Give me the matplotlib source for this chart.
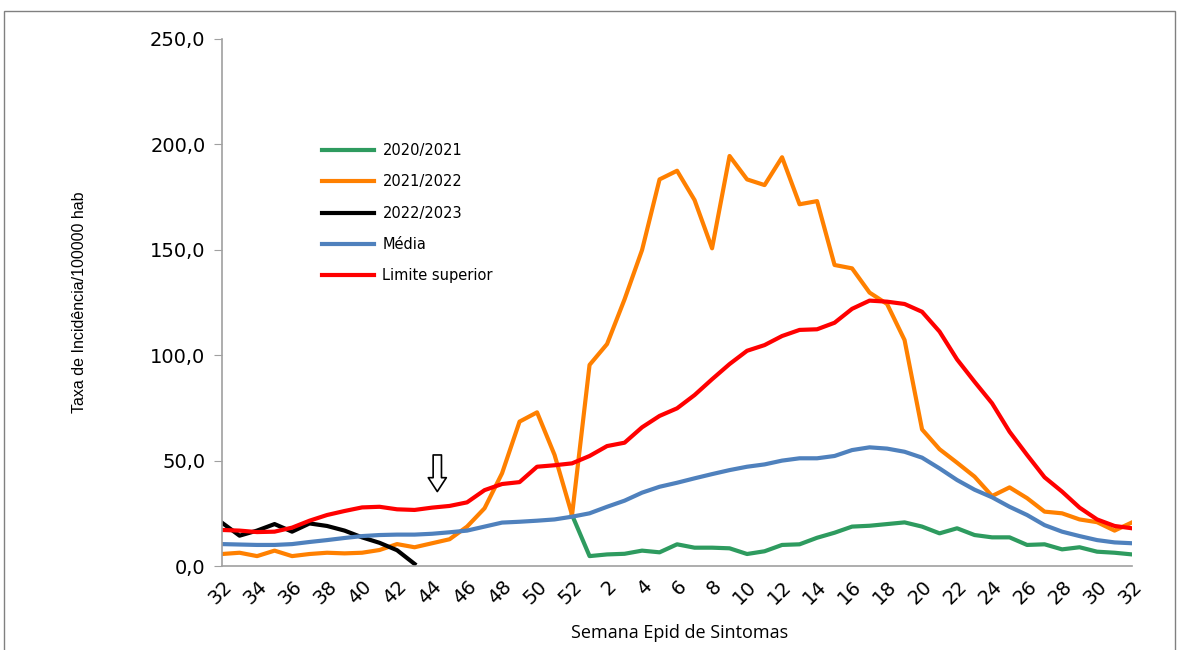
import matplotlib.pyplot as plt
import matplotlib.patches as mpatches
import numpy as np

# Epidemiological weeks: 32..52 then 1..32
weeks = list(range(32, 53)) + list(range(1, 33))
nan = np.nan

s2020 = [nan] * 20 + [24.2, 4.7, 5.5, 5.8, 7.3, 6.5, 10.3, 8.7, 8.7, 8.4,
                      5.7, 7.0, 10.0, 10.3, 13.4, 15.8, 18.7, 19.1, 19.9, 20.7,
                      18.7, 15.5, 17.9, 14.7, 13.6, 13.6, 10.0, 10.3, 7.9, 8.9,
                      6.8, 6.3, 5.5]
s2021 = [5.7, 6.3, 4.7, 7.3, 4.7, 5.7, 6.3, 6.0, 6.3, 7.6,
         10.4, 8.9, 10.8, 12.7, 18.7, 27.4, 44.0, 68.5, 72.9, 52.7,
         24.2, 95.4, 105.3, 126.5, 149.9, 183.4, 187.5, 173.6, 150.7, 194.5,
         183.4, 180.7, 193.9, 171.6, 173.1, 142.8, 141.2, 129.7, 124.3, 107.2,
         64.8, 55.4, 49.0, 42.4, 33.2, 37.3, 32.2, 25.8, 25.0, 22.1,
         20.8, 16.8, 20.7]
s2022 = [20.5, 14.4, 16.8, 19.9, 16.3, 20.2, 19.0, 16.8, 13.6, 11.0,
         7.5, 1.0] + [nan] * 41
media = [10.4, 10.2, 10.0, 10.0, 10.4, 11.4, 12.3, 13.3, 14.2, 14.7,
         14.9, 14.9, 15.3, 16.0, 16.8, 18.7, 20.6, 21.0, 21.5, 22.1,
         23.4, 25.0, 28.1, 31.0, 34.8, 37.6, 39.5, 41.6, 43.6, 45.5,
         47.1, 48.2, 50.0, 51.1, 51.1, 52.2, 55.0, 56.3, 55.7, 54.2,
         51.4, 46.3, 40.8, 36.2, 32.6, 28.1, 24.2, 19.4, 16.3, 14.2,
         12.3, 11.2, 10.8]
limite = [17.1, 16.8, 16.1, 16.3, 18.2, 21.5, 24.2, 26.1, 27.8, 28.1,
          26.9, 26.6, 27.7, 28.5, 30.2, 36.0, 38.9, 39.8, 47.1, 47.8,
          48.7, 52.2, 56.9, 58.5, 65.8, 71.2, 74.8, 81.1, 88.6, 95.8,
          102.1, 104.8, 109.1, 112.0, 112.3, 115.4, 122.0, 125.9, 125.4, 124.3,
          120.6, 111.2, 98.0, 87.4, 77.2, 63.7, 52.7, 42.1, 35.3, 27.7,
          22.1, 19.0, 17.9]

x = np.arange(len(weeks))

fig = plt.figure(figsize=(11.78, 6.5), dpi=100)
ax = fig.add_axes([0.1885, 0.1292, 0.7725, 0.8108])

ax.plot(x, s2020, color='#2E9B5F', lw=3, label='2020/2021')
ax.plot(x, s2021, color='#FF8000', lw=3, label='2021/2022')
ax.plot(x, s2022, color='black', lw=3, label='2022/2023')
ax.plot(x, media, color='#4F81BD', lw=3, label='Média')
ax.plot(x, limite, color='#FF0000', lw=3, label='Limite superior')

ax.set_xlim(0, 52)
ax.set_ylim(0, 250)
yt = np.arange(0, 251, 50)
ax.set_yticks(yt)
ax.set_yticklabels([f'{v:.1f}'.replace('.', ',') for v in yt], fontsize=14)
ax.set_xticks(x[::2])
ax.set_xticklabels([str(w) for w in weeks[::2]], rotation=45, ha='right',
                   rotation_mode='anchor', fontsize=14)
ax.tick_params(axis='x', length=0, pad=8)
ax.tick_params(axis='y', length=6, color='#A0A0A0', pad=6)

for side in ['top', 'right']:
    ax.spines[side].set_visible(False)
for side in ['left', 'bottom']:
    ax.spines[side].set_color('#A0A0A0')
    ax.spines[side].set_linewidth(1.2)

# hollow arrow marking the current week
ax.annotate('', xy=(12.3, 34.0), xytext=(12.3, 54.0),
            arrowprops=dict(arrowstyle='simple,head_width=1.3,head_length=1.0,tail_width=0.6',
                            fc='white', ec='black', lw=1.2))

ax.set_ylabel('Taxa de Incidência/100000 hab', fontsize=11.5, family='Liberation Sans')
ax.yaxis.set_label_coords(-0.148, 0.5)
fig.text(0.577, 0.026, 'Semana Epid de Sintomas', ha='center', va='center',
         fontsize=13, family='Open Sans')

ax.legend(loc='upper left', bbox_to_anchor=(0.2733, 0.78), bbox_transform=fig.transFigure,
          frameon=False, fontsize=10.5, handlelength=3.6, handletextpad=0.55,
          labelspacing=1.12, borderpad=0, borderaxespad=0)

# outer frame
fig.patches.append(mpatches.Rectangle((4 / 1178, -0.1), 1171 / 1178, 1.1 - 11 / 650,
                                      transform=fig.transFigure, fill=False,
                                      ec='#808080', lw=1))

fig.savefig('out.png', dpi=100)
